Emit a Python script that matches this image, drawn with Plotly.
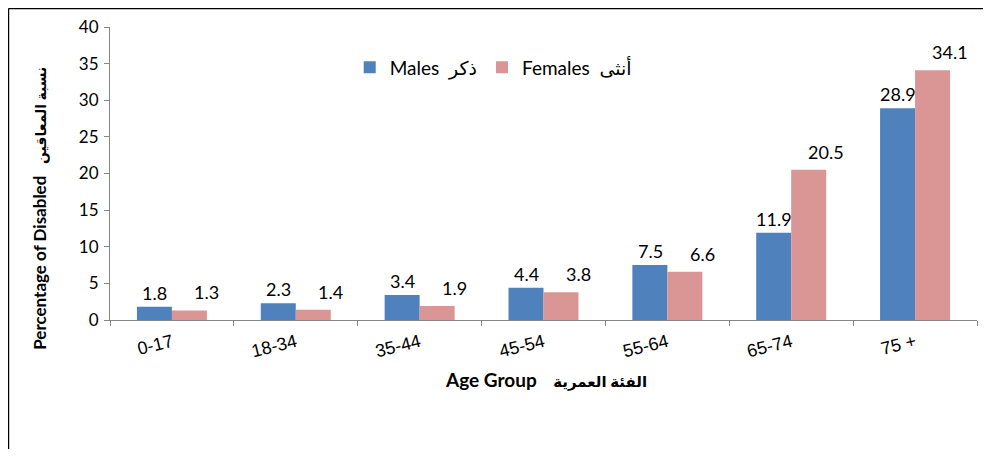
import plotly.graph_objects as go

categories = ["0-17", "18-34", "35-44", "45-54", "55-64", "65-74", "75 +"]
males = [1.8, 2.3, 3.4, 4.4, 7.5, 11.9, 28.9]
females = [1.3, 1.4, 1.9, 3.8, 6.6, 20.5, 34.1]
male_name = "Males  ذكر"
female_name = "Females  أنثى"
y_ticks = [0, 5, 10, 15, 20, 25, 30, 35, 40]
x_title_en, x_title_ar = "Age Group", "الفئة العمرية"
y_title_en, y_title_ar = "Percentage of Disabled", "نسبة المعاقين"

MALE_C = "#4F81BD"
FEMALE_C = "#D99694"
FONT = "Lato, 'Liberation Sans', 'DejaVu Sans', sans-serif"

fig = go.Figure()
fig.add_trace(go.Bar(x=categories, y=males, name=male_name, marker_color=MALE_C,
                     marker_line_width=0))
fig.add_trace(go.Bar(x=categories, y=females, name=female_name, marker_color=FEMALE_C,
                     marker_line_width=0))

annotations = []
for c, v in zip(categories, males):
    annotations.append(dict(x=c, y=v, xref="x", yref="y", text=f"{v:.1f}", showarrow=False,
                            xshift=-17, yshift=1, yanchor="bottom",
                            font=dict(family=FONT, size=18, color="#000")))
for c, v in zip(categories, females):
    annotations.append(dict(x=c, y=v, xref="x", yref="y", text=f"{v:.1f}", showarrow=False,
                            xshift=35, yshift=5, yanchor="bottom",
                            font=dict(family=FONT, size=18, color="#000")))
annotations.append(dict(
    x=0.503, y=-0.25, xref="paper", yref="paper",
    text=f"<b><span style='font-size:19px'>{x_title_en}</span>    "
         f"<span style='font-size:15px'>{x_title_ar}</span></b>",
    showarrow=False, font=dict(family=FONT, size=17, color="#000")))
annotations.append(dict(
    x=-0.095, y=0.38, xref="paper", yref="paper",
    text=f"<b><span style='font-size:17px'>{y_title_en}</span>   "
         f"<span style='font-size:14px'>{y_title_ar}</span></b>",
    textangle=-90, showarrow=False, font=dict(family=FONT, size=16, color="#000")))

fig.update_layout(
    width=975, height=441,
    margin=dict(l=102, r=6, t=19, b=129),
    paper_bgcolor="white", plot_bgcolor="white",
    barmode="group", bargap=0.435, bargroupgap=0,
    font=dict(family=FONT, size=16, color="#000"),
    legend=dict(orientation="h", x=0.442, y=0.862, xanchor="center", yanchor="middle",
                font=dict(family=FONT, size=19), bgcolor="rgba(0,0,0,0)",
                itemwidth=30, traceorder="normal"),
    annotations=annotations,
    shapes=[
        dict(type="line", xref="paper", yref="paper", x0=-0.1171, x1=-0.1171, y0=-0.6, y1=1.063,
             line=dict(color="black", width=1.5)),
        dict(type="line", xref="paper", yref="paper", x0=-0.1171, x1=1.1, y0=1.063, y1=1.063,
             line=dict(color="black", width=1.5)),
    ],
)
fig.update_xaxes(showline=True, linecolor="#868686", linewidth=1, ticks="outside",
                 tickson="boundaries", ticklen=5, tickcolor="#868686", tickangle=-14,
                 tickfont=dict(family="'Liberation Sans', Arial, sans-serif", size=18),
                 ticklabelstandoff=4, showgrid=False, zeroline=False)
fig.update_yaxes(range=[0, 40], tickvals=y_ticks, showline=True, linecolor="#868686", linewidth=1,
                 ticks="outside", ticklen=5, tickcolor="#868686", showgrid=False, zeroline=False,
                 tickfont=dict(family=FONT, size=17), ticklabelstandoff=2)

fig.write_html("out.html")
